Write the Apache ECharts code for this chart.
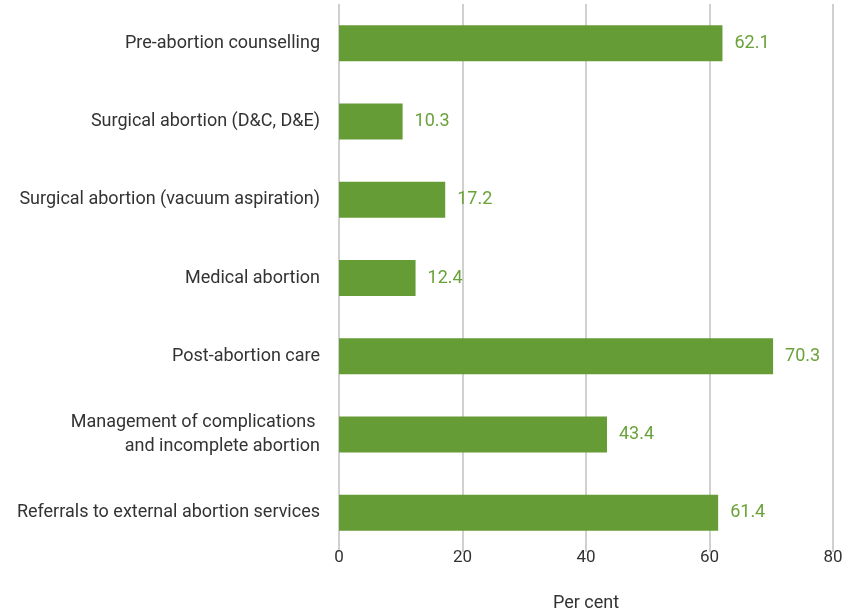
<!DOCTYPE html>
<html>
<head>
<meta charset="utf-8">
<script src="https://cdn.jsdelivr.net/npm/echarts@6/dist/echarts.min.js"></script>
<style>
html,body{margin:0;padding:0;background:#fff;}
#chart{width:846px;height:610px;}
</style>
</head>
<body>
<div id="chart"></div>
<script>
// categories top to bottom
var categories = [
	'Pre-abortion counselling',
	'Surgical abortion (D&C, D&E)',
	'Surgical abortion (vacuum aspiration)',
	'Medical abortion',
	'Post-abortion care',
	'Management of complications \nand incomplete abortion',
	'Referrals to external abortion services'
];
var values = [62.1, 10.3, 17.2, 12.4, 70.3, 43.4, 61.4];
var xTicks = [0, 20, 40, 60, 80];

var font = 'Roboto, "Liberation Sans", sans-serif';
var green = '#669c35';

var myChart = echarts.init(document.getElementById('chart'));
var option = {
	animation:false,
	grid:{left:339,right:13,top:4,bottom:58,containLabel:false,outerBoundsMode:'none'},
	xAxis:{
		type:'value',
		min:xTicks[0],
		max:xTicks[xTicks.length-1],
		interval:20,
		name:'Per cent',
		nameLocation:'middle',
		nameGap:42,
		nameTextStyle:{fontFamily:font,fontSize:18,color:'#333'},
		axisLine:{show:false},
		axisTick:{show:false},
		axisLabel:{fontFamily:font,fontSize:17,color:'#333',margin:-3},
		splitLine:{show:true,lineStyle:{color:'#d0d0d0',width:2}}
	},
	yAxis:{
		type:'category',
		inverse:true,
		data:categories,
		axisLine:{show:false},
		axisTick:{show:false},
		axisLabel:{fontFamily:font,fontSize:18,color:'#333',margin:19,align:'right',lineHeight:24}
	},
	series:[{
		type:'bar',
		data:values,
		barWidth:36,
		itemStyle:{color:green},
		label:{
			show:true,
			position:'right',
			distance:12,
			fontFamily:font,
			fontSize:18,
			color:'#6aa23a',
			formatter:function(p){return p.value.toFixed(1);}
		}
	}]
};
myChart.setOption(option);
</script>
</body>
</html>
